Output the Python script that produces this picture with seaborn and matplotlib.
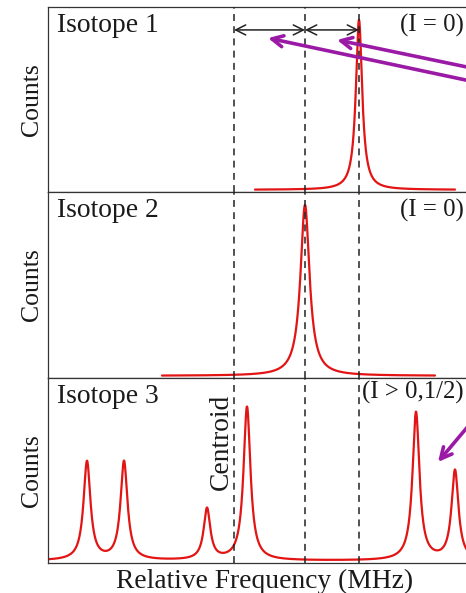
import numpy as np
import pandas as pd
import matplotlib
matplotlib.use("Agg")
import matplotlib.pyplot as plt
import seaborn as sns

# ---------------- data (relative frequency units, centroid = 0) ----------------
centroid_lines = [0.0, 7.1, 12.5]          # dashed reference lines
panel_labels = ["Isotope 1", "Isotope 2", "Isotope 3"]
spin_labels = ["(I = 0)", "(I = 0)", "(I > 0,1/2)"]

iso1_pos = [12.5]
iso1_height = [0.93]
iso1_width = [0.38]
iso1_range = [2.1, 22.1]

iso2_pos = [7.1]
iso2_height = [0.93]
iso2_width = [0.55]
iso2_range = [-7.2, 20.1]

iso3_pos = [-14.7, -11.0, -2.7, 1.3, 18.2, 22.1]
iso3_height = [0.54, 0.54, 0.28, 0.84, 0.81, 0.49]
iso3_width = [0.42, 0.42, 0.40, 0.42, 0.42, 0.42]
iso3_range = [-18.6, 30.6]

x_limits = [-18.6, 30.6]


def spectrum(pos, height, width, xr, n=2000):
    x = np.linspace(xr[0], xr[1], n)
    y = np.zeros_like(x)
    for p, h, g in zip(pos, height, width):
        y += h * g ** 2 / ((x - p) ** 2 + g ** 2)
    return pd.DataFrame({"freq": x, "counts": y})


spectra = [
    spectrum(iso1_pos, iso1_height, iso1_width, iso1_range),
    spectrum(iso2_pos, iso2_height, iso2_width, iso2_range),
    spectrum(iso3_pos, iso3_height, iso3_width, iso3_range),
]

# ---------------- style ----------------
sns.set_style("white")
plt.rcParams["font.family"] = ["Liberation Serif", "DejaVu Serif"]

W, H = 466, 593
fig = plt.figure(figsize=(W / 100, H / 100), dpi=100)
fig.patch.set_facecolor("white")

left_px, right_px = 48, 540
tops = [7, 192, 378]
bottoms = [192, 378, 563]

fs = 19.8
fs_counts = 18.5
fs_spin = 17.8
txt_color = "#1a1a1a"
axes = []
for i in range(3):
    ax = fig.add_axes([left_px / W, 1 - bottoms[i] / H,
                       (right_px - left_px) / W, (bottoms[i] - tops[i]) / H])
    sns.lineplot(data=spectra[i], x="freq", y="counts", ax=ax,
                 color="#e31414", lw=1.6)
    ax.set_xlim(x_limits)
    ax.set_ylim(-0.012, 1.0)
    ax.set_xticks([])
    ax.set_yticks([])
    ax.set_xlabel("")
    ax.set_ylabel("")
    for s in ax.spines.values():
        s.set_color("#333333")
        s.set_linewidth(0.9)
    for xv in centroid_lines:
        ax.axvline(xv, color="#222222", lw=1.1, ls=(0, (4.5, 3.5)), zorder=3)
    ax.text(0.018, 0.865, panel_labels[i], transform=ax.transAxes,
            fontsize=fs, va="baseline", ha="left", color=txt_color)
    ax.text(-0.033, 0.5, "Counts", transform=ax.transAxes, rotation=90,
            fontsize=fs_counts, va="center", ha="center", color=txt_color)
    axes.append(ax)

# spin labels
axes[0].text((400 - left_px) / (right_px - left_px), 0.865, spin_labels[0],
             transform=axes[0].transAxes, fontsize=fs_spin, va="baseline",
             ha="left", color=txt_color)
axes[1].text((400 - left_px) / (right_px - left_px), 0.866, spin_labels[1],
             transform=axes[1].transAxes, fontsize=fs_spin, va="baseline",
             ha="left", color=txt_color)
axes[2].text((362 - left_px) / (right_px - left_px), 0.887, spin_labels[2],
             transform=axes[2].transAxes, fontsize=fs_spin, va="baseline",
             ha="left", color=txt_color)

# centroid label
axes[2].text(-1.3, 0.655, "Centroid", rotation=90, fontsize=fs,
             transform=axes[2].get_xaxis_transform(),
             va="center", ha="center", color=txt_color)

# x label
axes[2].text((265 - left_px) / (right_px - left_px), -0.135,
             "Relative Frequency (MHz)", transform=axes[2].transAxes,
             fontsize=fs, va="baseline", ha="center", color=txt_color)

# black double arrows (isotope shifts)
bt = axes[0].get_xaxis_transform()
for a, b in [(centroid_lines[0], centroid_lines[1]),
             (centroid_lines[1], centroid_lines[2])]:
    axes[0].annotate("", xy=(a, 0.876), xytext=(b, 0.876), xycoords=bt,
                     textcoords=bt,
                     arrowprops=dict(arrowstyle="<->", color="#222222", lw=1.1,
                                     shrinkA=0, shrinkB=0,
                                     mutation_scale=18))

# purple arrows
purple = "#9a1aa6"
axes[0].annotate("", xy=(3.4, 0.832), xytext=(30.0, 0.527), xycoords=bt,
                 textcoords=bt, annotation_clip=False,
                 arrowprops=dict(arrowstyle="->", color=purple, lw=2.6,
                                 shrinkA=0, shrinkB=0, mutation_scale=20))
axes[0].annotate("", xy=(10.3, 0.822), xytext=(30.0, 0.60), xycoords=bt,
                 textcoords=bt, annotation_clip=False,
                 arrowprops=dict(arrowstyle="->", color=purple, lw=2.6,
                                 shrinkA=0, shrinkB=0, mutation_scale=20))
bt3 = axes[2].get_xaxis_transform()
axes[2].annotate("", xy=(20.4, 0.546), xytext=(25.6, 0.88), xycoords=bt3,
                 textcoords=bt3, annotation_clip=False,
                 arrowprops=dict(arrowstyle="->", color=purple, lw=2.6,
                                 shrinkA=0, shrinkB=0, mutation_scale=20))

fig.savefig("out.png", dpi=100, facecolor="white")
